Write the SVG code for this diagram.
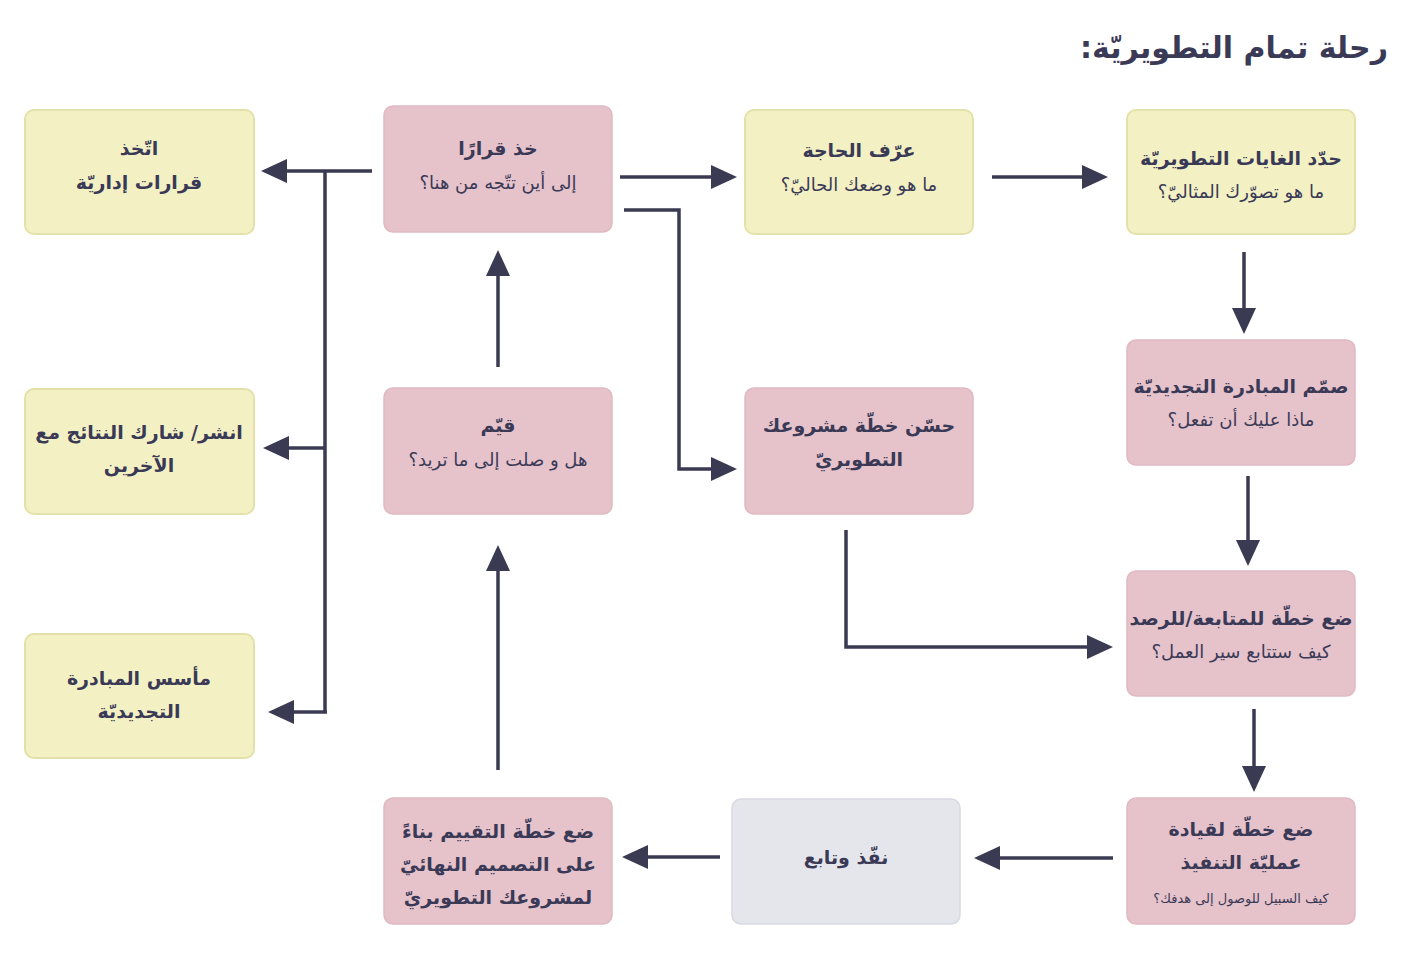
<svg xmlns="http://www.w3.org/2000/svg" width="1425" height="974" viewBox="0 0 1425 974">
<style>
.bg{fill:#ffffff}
.y{fill:#f3f1c3;stroke:#e3e1a9;stroke-width:2}
.p{fill:#e6c2cb;stroke:#e0b9c3;stroke-width:1.5}
.g{fill:#e5e5ec;stroke:#d9d9e1;stroke-width:1.5}
text{font-family:"DejaVu Sans","Noto Sans",sans-serif;fill:#3a3a57;text-anchor:middle;direction:rtl}
.h{font-weight:bold;font-size:19px}
.r{font-size:18px}
.s{font-size:13px}
.t{font-weight:bold;font-size:30px;text-anchor:start}
.c{fill:none;stroke:#3a3a52;stroke-width:3.5;stroke-linejoin:miter}
</style>
<defs>
<marker id="ah" markerUnits="userSpaceOnUse" markerWidth="28" markerHeight="26" refX="22" refY="12" orient="auto" viewBox="0 0 28 26">
<path d="M0,0 L26,12 L0,24 z" fill="#3a3a52"/>
</marker>
</defs>
<rect class="bg" width="1425" height="974"/>
<text class="t" x="1388" y="58">رحلة تمام التطويريّة:</text>

<g id="n-decide-admin">
<rect class="y" x="25" y="110" width="229" height="124" rx="9"/>
<text class="h" x="139" y="155">اتّخذ</text>
<text class="h" x="139" y="189">قرارات إداريّة</text>
</g>
<g id="n-share">
<rect class="y" x="25" y="389" width="229" height="125" rx="9"/>
<text class="h" x="139" y="439">انشر/ شارك النتائج مع</text>
<text class="h" x="139" y="472">الآخرين</text>
</g>
<g id="n-institutionalize">
<rect class="y" x="25" y="634" width="229" height="124" rx="9"/>
<text class="h" x="139" y="685">مأسس المبادرة</text>
<text class="h" x="139" y="718">التجديديّة</text>
</g>

<g id="n-take-decision">
<rect class="p" x="384" y="106" width="228" height="126" rx="9"/>
<text class="h" x="498" y="155">خذ قرارًا</text>
<text class="r" x="498" y="189">إلى أين تتّجه من هنا؟</text>
</g>
<g id="n-evaluate">
<rect class="p" x="384" y="388" width="228" height="126" rx="9"/>
<text class="h" x="498" y="432">قيّم</text>
<text class="r" x="498" y="466">هل و صلت إلى ما تريد؟</text>
</g>
<g id="n-eval-plan">
<rect class="p" x="384" y="798" width="228" height="126" rx="9"/>
<text class="h" x="498" y="838">ضع خطّة التقييم بناءً</text>
<text class="h" x="498" y="871">على التصميم النهائيّ</text>
<text class="h" x="498" y="904">لمشروعك التطويريّ</text>
</g>

<g id="n-identify-need">
<rect class="y" x="745" y="110" width="228" height="124" rx="9"/>
<text class="h" x="859" y="157">عرّف الحاجة</text>
<text class="r" x="859" y="191">ما هو وضعك الحاليّ؟</text>
</g>
<g id="n-improve">
<rect class="p" x="745" y="388" width="228" height="126" rx="9"/>
<text class="h" x="859" y="432">حسّن خطّة  مشروعك</text>
<text class="h" x="859" y="466">التطويريّ</text>
</g>
<g id="n-execute">
<rect class="g" x="732" y="799" width="228" height="125" rx="9"/>
<text class="h" x="846" y="864">نفّذ وتابع</text>
</g>

<g id="n-goals">
<rect class="y" x="1127" y="110" width="228" height="124" rx="9"/>
<text class="h" x="1241" y="165">حدّد الغايات التطويريّة</text>
<text class="r" x="1241" y="198">ما هو تصوّرك المثاليّ؟</text>
</g>
<g id="n-design">
<rect class="p" x="1127" y="340" width="228" height="125" rx="9"/>
<text class="h" x="1241" y="393">صمّم المبادرة التجديديّة</text>
<text class="r" x="1241" y="426">ماذا عليك أن تفعل؟</text>
</g>
<g id="n-monitor">
<rect class="p" x="1127" y="571" width="228" height="125" rx="9"/>
<text class="h" x="1241" y="625">ضع خطّة للمتابعة/للرصد</text>
<text class="r" x="1241" y="658">كيف ستتابع سير العمل؟</text>
</g>
<g id="n-lead">
<rect class="p" x="1127" y="798" width="228" height="126" rx="9"/>
<text class="h" x="1241" y="836">ضع خطّة لقيادة</text>
<text class="h" x="1241" y="869">عمليّة التنفيذ</text>
<text class="s" x="1241" y="903">كيف السبيل للوصول إلى هدفك؟</text>
</g>

<g id="connectors">
<path class="c" d="M620,177 H733" marker-end="url(#ah)"/>
<path class="c" d="M992,177 H1104" marker-end="url(#ah)"/>
<path class="c" d="M1244,252 V330" marker-end="url(#ah)"/>
<path class="c" d="M1248,476 V562" marker-end="url(#ah)"/>
<path class="c" d="M1254,709 V788" marker-end="url(#ah)"/>
<path class="c" d="M1113,858 H978" marker-end="url(#ah)"/>
<path class="c" d="M720,857 H626" marker-end="url(#ah)"/>
<path class="c" d="M498,770 V549" marker-end="url(#ah)"/>
<path class="c" d="M498,367 V254" marker-end="url(#ah)"/>
<path class="c" d="M624,210 H679 V469 H733" marker-end="url(#ah)"/>
<path class="c" d="M846,530 V647 H1109" marker-end="url(#ah)"/>
<path class="c" d="M372,171 H265" marker-end="url(#ah)"/>
<path class="c" d="M325,171 V712"/>
<path class="c" d="M325,448 H267" marker-end="url(#ah)"/>
<path class="c" d="M327,712 H272" marker-end="url(#ah)"/>
</g>
</svg>
